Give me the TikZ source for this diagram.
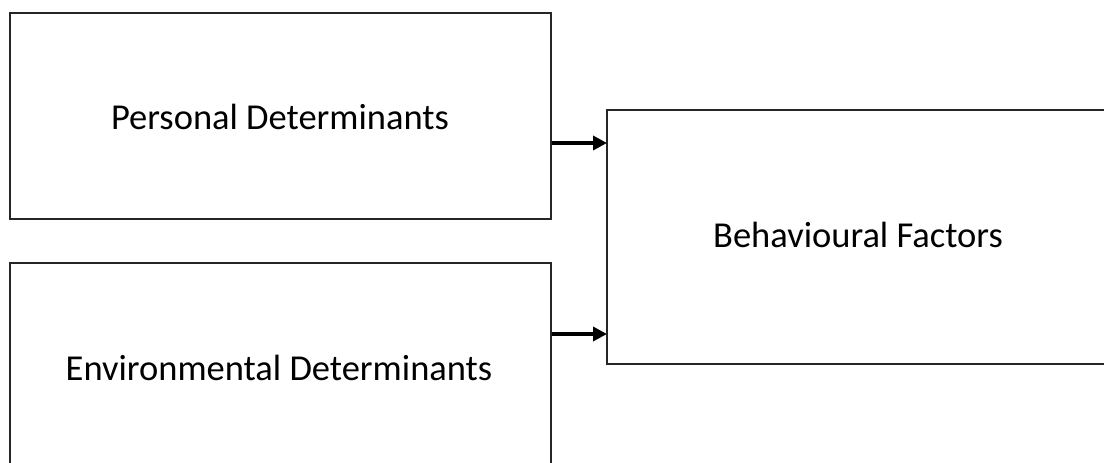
\documentclass[tikz,border=0pt]{standalone}
\usepackage{fontspec}
\setmainfont{Carlito}
\usetikzlibrary{arrows.meta}
\begin{document}
\begin{tikzpicture}[x=1pt,y=-1pt,
  boxstyle/.style={draw=black!85,line width=2.2pt},
  lbl/.style={font=\fontsize{36.5}{42}\selectfont},
  conn/.style={line width=3.5pt,-{Triangle[length=14pt,width=14pt]}}]
\useasboundingbox (0,0) rectangle (1104,463);
\clip (0,0) rectangle (1104,463);
\draw[boxstyle] (10,13) rectangle (551,219);
\draw[boxstyle] (10,263) rectangle (551,475);
\draw[boxstyle] (607,110) rectangle (1110,364);
\node[lbl] (p) at (280,117) {Personal Determinants};
\node[lbl] (e) at (279,368) {Environmental Determinants};
\node[lbl] (b) at (858,235) {Behavioural Factors};
\coordinate (a1s) at (552,143);
\coordinate (a1e) at (607,143);
\coordinate (a2s) at (552,334);
\coordinate (a2e) at (607,334);
\draw[conn] (a1s) -- (a1e);
\draw[conn] (a2s) -- (a2e);
\end{tikzpicture}
\end{document}
